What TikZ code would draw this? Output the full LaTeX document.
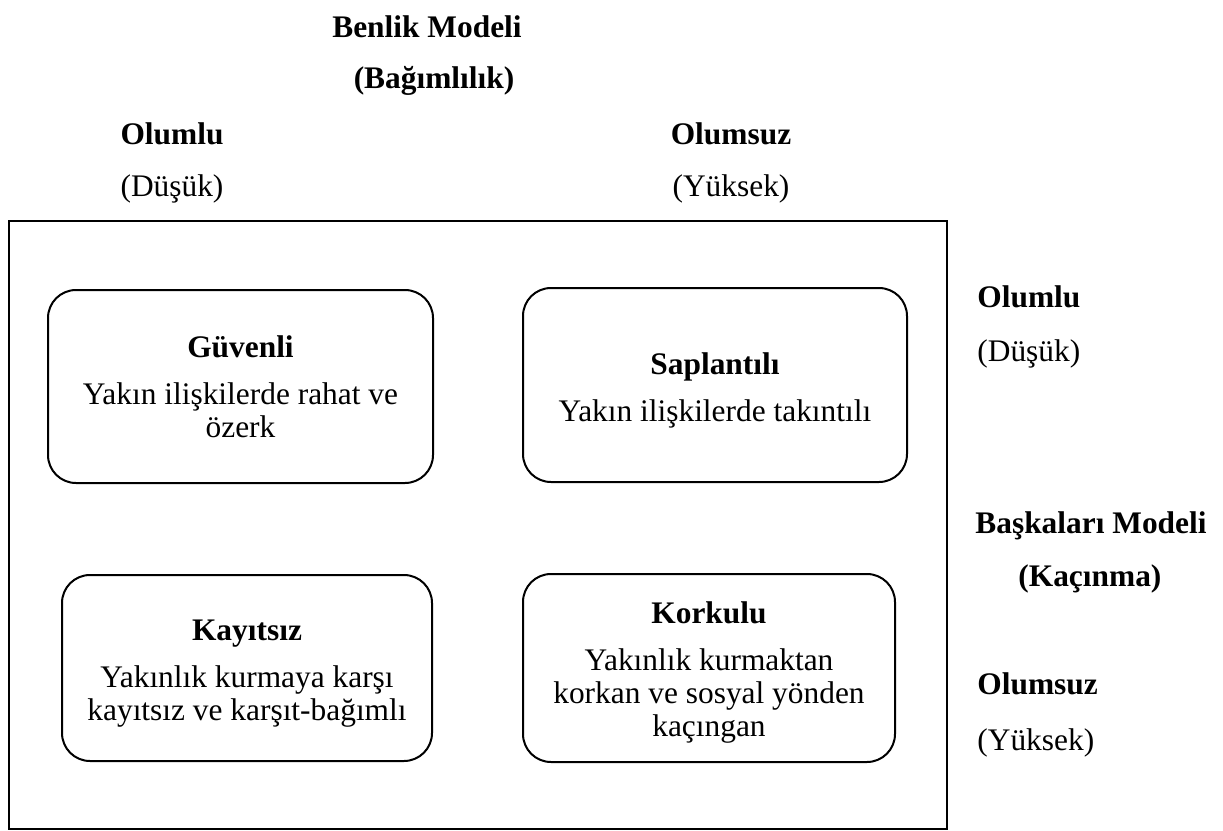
\documentclass[tikz,border=0pt]{standalone}
\usepackage{fontspec}
\setmainfont{Liberation Serif}
\usepackage{tikz}

\tikzset{
    quad/.style={draw,rounded corners=14pt,line width=1pt,inner sep=0pt},
    inside/.style={align=center,inner sep=0pt},
    lbl/.style={anchor=base,inner sep=0pt},
    side/.style={anchor=base west,inner sep=0pt}
}
\newcommand{\ttl}[1]{\textbf{#1}\\[7pt]}

\begin{document}
\begin{tikzpicture}[x=0.5pt,y=-0.5pt,font=\fontsize{15.7}{16.5}\selectfont]
    \useasboundingbox (0,0) rectangle (1223,831);
    % outer frame
    \draw[line width=0.8pt] (9,221) rectangle (947,829);

    % top labels
    \node[lbl] (benlik) at (427,37) {\textbf{Benlik Modeli}};
    \node[lbl] (bagim) at (434,88) {\textbf{(Bağımlılık)}};
    \node[lbl] (olumluA) at (172,144) {\textbf{Olumlu}};
    \node[lbl] (dusukA) at (172,196) {(Düşük)};
    \node[lbl] (olumsuzA) at (731,144) {\textbf{Olumsuz}};
    \node[lbl] (yuksekA) at (731,196) {(Yüksek)};

    % right labels
    \node[side] (olumluB) at (977,307) {\textbf{Olumlu}};
    \node[side] (dusukB) at (977,361) {(Düşük)};
    \node[side] (baskalari) at (975,533) {\textbf{Başkaları Modeli}};
    \node[side] (kacinma) at (1018,586) {\textbf{(Kaçınma)}};
    \node[side] (olumsuzB) at (977,694) {\textbf{Olumsuz}};
    \node[side] (yuksekB) at (977,750) {(Yüksek)};

    % the four styles
    \node[quad,minimum width=192.5pt,minimum height=96.5pt] (guvenli) at (240.5,386.5) {};
    \node[quad,minimum width=192pt,minimum height=97pt] (saplantili) at (715,385) {};
    \node[quad,minimum width=185pt,minimum height=93pt] (kayitsiz) at (247,668) {};
    \node[quad,minimum width=186pt,minimum height=94pt] (korkulu) at (709,668) {};

    \node[inside] (guvenliT) at (guvenli) {\ttl{Güvenli}Yakın ilişkilerde rahat ve\\özerk};
    \node[inside,yshift=-2.5pt] (saplantiliT) at (saplantili) {\ttl{Saplantılı}Yakın ilişkilerde takıntılı};
    \node[inside,yshift=-3pt] (kayitsizT) at (kayitsiz) {\ttl{Kayıtsız}Yakınlık kurmaya karşı\\kayıtsız ve karşıt-bağımlı};
    \node[inside,yshift=-2pt] (korkuluT) at (korkulu) {\ttl{Korkulu}Yakınlık kurmaktan\\korkan ve sosyal yönden\\kaçıngan};
\end{tikzpicture}
\end{document}
